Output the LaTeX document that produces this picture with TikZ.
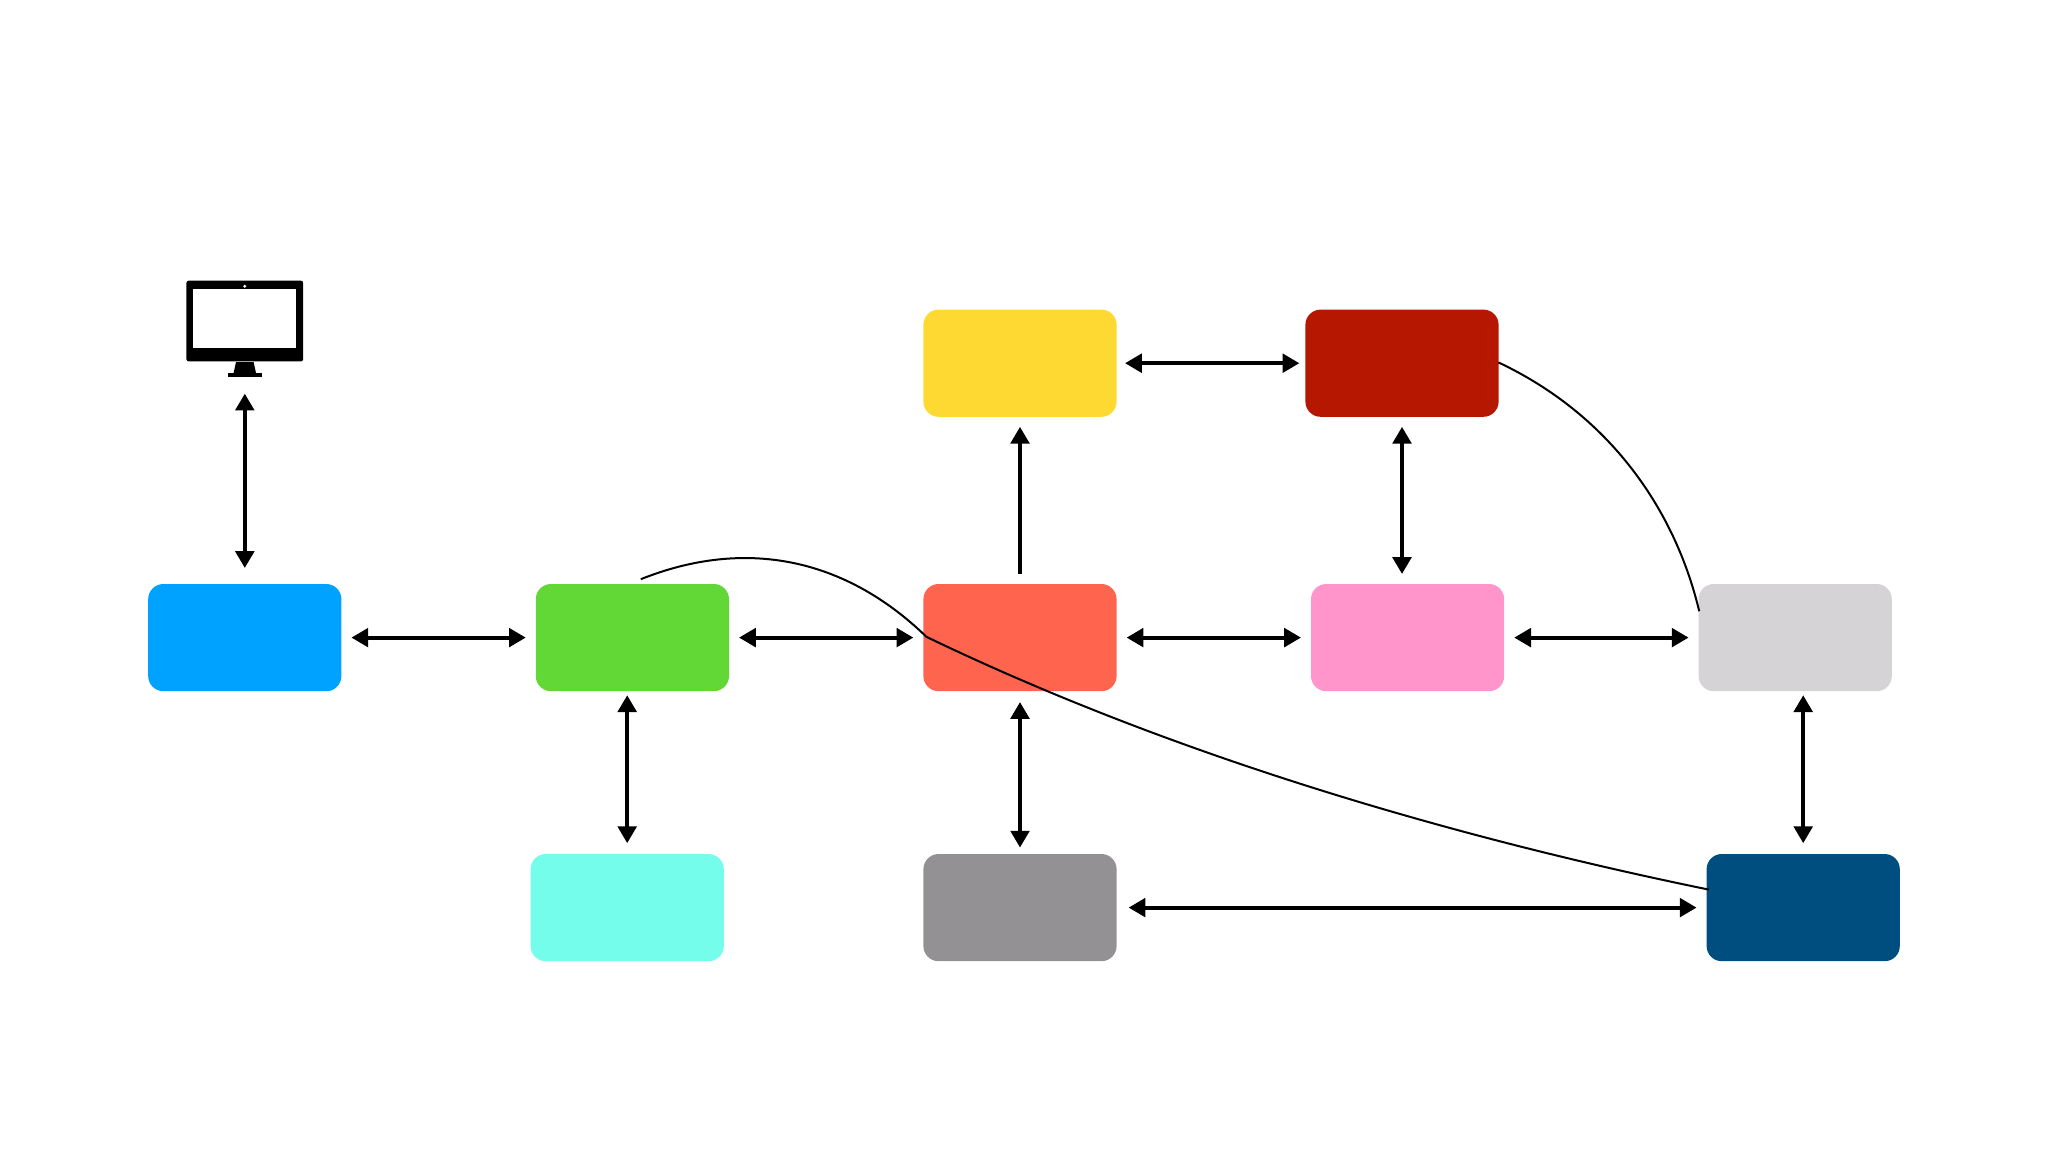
\documentclass[tikz,border=0pt]{standalone}
\usepackage{xcolor}
\usetikzlibrary{positioning,arrows.meta}
\definecolor{cBlue}{RGB}{0,162,255}
\definecolor{cGreen}{RGB}{97,216,54}
\definecolor{cRed}{RGB}{255,100,78}
\definecolor{cPink}{RGB}{255,149,202}
\definecolor{cSilver}{RGB}{213,211,214}
\definecolor{cYellow}{RGB}{254,217,49}
\definecolor{cMaroon}{RGB}{181,23,0}
\definecolor{cAqua}{RGB}{115,253,234}
\definecolor{cGrey}{RGB}{147,145,148}
\definecolor{cNavy}{RGB}{0,77,128}
\begin{document}
\begin{tikzpicture}[node distance=21.8mm,
   box/.style={rounded corners=1.9mm,minimum width=24.15mm,minimum height=13.4mm,inner sep=0pt,outer sep=1.25mm},
   link/.style={{Triangle[length=2.1mm,width=2.3mm]}-{Triangle[length=2.1mm,width=2.3mm]},line width=.5mm},
   oneway/.style={-{Triangle[length=2.1mm,width=2.3mm]},line width=.5mm},
   wire/.style={line width=.25mm}]
  \useasboundingbox (0,0) rectangle (25.6,-14.4);
  \node[box,fill=cBlue] (blue) at (3.06,-7.97) {};
  \node[box,fill=cGreen,right=of blue] (green) {};
  \node[box,fill=cRed,right=of green] (red) {};
  \node[box,fill=cPink,right=of red] (pink) {};
  \node[box,fill=cSilver,right=of pink] (silver) {};
  \node[box,fill=cYellow,above=18.4mm of red] (yellow) {};
  \node[box,fill=cMaroon,right=21.1mm of yellow] (maroon) {};
  \node[box,fill=cAqua,below=17.85mm of green,xshift=-.65mm] (aqua) {};
  \node[box,fill=cGrey,below=17.85mm of red] (grey) {};
  \node[box,fill=cNavy,below=17.85mm of silver,xshift=1mm] (navy) {};
  % monitor
  \node[fill=black,rounded corners=.3mm,minimum width=14.6mm,minimum height=10.1mm,inner sep=0pt,above=26.5mm of blue] (monitor) {};
  \node[fill=white,minimum width=12.9mm,minimum height=7.35mm,inner sep=0pt,yshift=.35mm] (screen) at (monitor) {};
  \node[fill=white,circle,minimum size=.4mm,inner sep=0pt,below=.5mm of monitor.north] (cam) {};
  \node[fill=black,minimum width=4.25mm,minimum height=.5mm,inner sep=0pt,outer sep=2.1mm,below=-.75mm of monitor.south] (base) {};
  \fill ([xshift=-1.1mm]monitor.south) -- ([xshift=1.1mm]monitor.south) -- ([xshift=1.45mm]base.center) -- ([xshift=-1.45mm]base.center) -- cycle;
  \draw[link,shorten >=.75mm] (base) -- (blue);
  \draw[link] (blue) -- (green);
  \draw[link] (green) -- (red);
  \draw[link] (red) -- (pink);
  \draw[link] (pink) -- (silver);
  \draw[link,shorten <=-.2mm,shorten >=-.5mm] (yellow) -- (maroon);
  \draw[oneway] (red) -- (yellow);
  \draw[link] (maroon) -- (maroon |- pink.north);
  \draw[link,shorten <=-.75mm,shorten >=.1mm] (aqua |- green.south) -- (aqua);
  \draw[link,shorten <=.1mm,shorten >=-.45mm] (red) -- (grey);
  \draw[link,shorten <=-.75mm,shorten >=.1mm] (navy |- silver.south) -- (navy);
  \draw[link,shorten <=.25mm] (grey) -- (navy);
  % long wires
  \coordinate (wireA) at (8.01,-7.24);
  \coordinate (wireB) at (11.58,-7.96);
  \coordinate (wireC) at (21.36,-11.12);
  \coordinate (wireD) at (18.73,-4.53);
  \coordinate (wireE) at (21.24,-7.64);
  \draw[wire] (wireA) .. controls (9.31,-6.72) and (10.56,-6.97) .. (wireB);
  \draw[wire] (wireB) .. controls (14.38,-9.31) and (17.75,-10.38) .. (wireC);
  \draw[wire] (wireD) .. controls (20.13,-5.19) and (20.94,-6.38) .. (wireE);
\end{tikzpicture}
\end{document}
